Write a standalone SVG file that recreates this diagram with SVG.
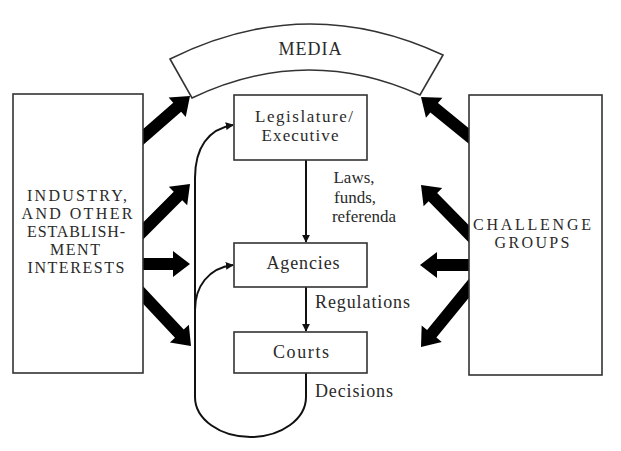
<svg xmlns="http://www.w3.org/2000/svg" width="621" height="451" viewBox="0 0 621 451">
<defs>
<style>
.box{fill:#fff;stroke:#333;stroke-width:1.6}
.t{font-family:"Liberation Serif",serif;font-size:18px;fill:#2a2a2a;text-anchor:middle}
.c{font-family:"Liberation Serif",serif;font-size:16px;fill:#2a2a2a;text-anchor:middle}
.s{font-family:"Liberation Serif",serif;font-size:17px;fill:#2a2a2a;text-anchor:middle}
.tl{font-family:"Liberation Serif",serif;font-size:18px;fill:#2a2a2a;text-anchor:start}
.ln{fill:none;stroke:#111;stroke-width:2}
.big{fill:#000}
</style>
<marker id="ah" viewBox="0 0 10 10" refX="9" refY="5" markerWidth="8" markerHeight="8" markerUnits="userSpaceOnUse" orient="auto">
<path d="M0,0 L10,5 L0,10 Z" fill="#111"/>
</marker>
<path id="fat" d="M-90,-6 L-17,-6 L-17,-13 L0,0 L-17,13 L-17,6 L-90,6 Z"/>
</defs>
<rect width="621" height="451" fill="#fff"/>
<g id="connectors">
<g class="big">
<use href="#fat" transform="translate(190,96) rotate(-41.1)"/>
<use href="#fat" transform="translate(190,184) rotate(-45)"/>
<use href="#fat" transform="translate(190,264) rotate(0)"/>
<use href="#fat" transform="translate(191,346) rotate(46.8)"/>
<use href="#fat" transform="translate(421,97) rotate(-140.8)"/>
<use href="#fat" transform="translate(421,185) rotate(-134.4)"/>
<use href="#fat" transform="translate(420,265) rotate(180)"/>
<use href="#fat" transform="translate(421,347) rotate(129.2)"/>
</g>
<path class="ln" d="M306,160 L306,242" marker-end="url(#ah)"/>
<path class="ln" d="M306,287 L306,331" marker-end="url(#ah)"/>
<path class="ln" d="M306,373 L306,397 A55.5,40 0 0 1 195,397 L195,178 C195,148 208,129 233,125" marker-end="url(#ah)"/>
<path class="ln" d="M195,310 C195,287 208,268 233,265" marker-end="url(#ah)"/>
</g>
<g id="industry">
<rect class="box" x="13" y="94" width="130" height="279"/>
<text class="c" x="77" y="201" textLength="100" lengthAdjust="spacing">INDUSTRY,</text>
<text class="c" x="77" y="219" textLength="111" lengthAdjust="spacing">AND OTHER</text>
<text class="c" x="76" y="237" textLength="98" lengthAdjust="spacing">ESTABLISH-</text>
<text class="c" x="75" y="255" textLength="50" lengthAdjust="spacing">MENT</text>
<text class="c" x="76" y="273" textLength="97" lengthAdjust="spacing">INTERESTS</text>
</g>
<g id="challenge">
<rect class="box" x="469" y="95" width="133" height="280"/>
<text class="c" x="532" y="230" textLength="118" lengthAdjust="spacing">CHALLENGE</text>
<text class="c" x="532" y="248" textLength="75" lengthAdjust="spacing">GROUPS</text>
</g>
<g id="media">
<path class="box" d="M170,59 Q306,-9 443,55 L420,95 Q306,43.5 192,98 Z"/>
<text class="t" x="310" y="55" textLength="63" lengthAdjust="spacing">MEDIA</text>
</g>
<g id="legislature">
<rect class="box" x="234" y="95" width="133" height="65"/>
<text class="s" x="304" y="122" textLength="98" lengthAdjust="spacing">Legislature/</text>
<text class="s" x="300" y="141" textLength="77" lengthAdjust="spacing">Executive</text>
</g>
<g id="agencies">
<rect class="box" x="234" y="243" width="133" height="44"/>
<text class="t" x="303" y="269" textLength="73" lengthAdjust="spacing">Agencies</text>
</g>
<g id="courts">
<rect class="box" x="234" y="332" width="133" height="41"/>
<text class="t" x="301" y="358" textLength="56" lengthAdjust="spacing">Courts</text>
</g>
<g id="labels">
<text class="s" x="354" y="183">Laws,</text>
<text class="s" x="355" y="203">funds,</text>
<text class="s" x="364" y="222">referenda</text>
<text class="tl" x="315" y="308" textLength="95" lengthAdjust="spacing">Regulations</text>
<text class="tl" x="315" y="397" textLength="78" lengthAdjust="spacing">Decisions</text>
</g>
</svg>
